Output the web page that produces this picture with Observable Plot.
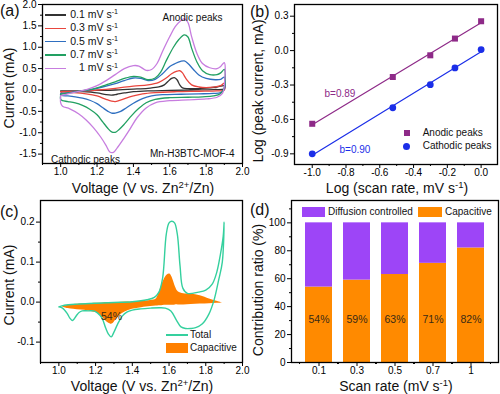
<!DOCTYPE html>
<html><head><meta charset="utf-8">
<script src="https://cdn.jsdelivr.net/npm/d3@7"></script>
<script src="https://cdn.jsdelivr.net/npm/@observablehq/plot@0.6"></script>
<style>
html,body{margin:0;padding:0;background:#fff;}
#fig{position:relative;width:500px;height:394px;overflow:hidden;background:#fff;font-family:"Liberation Sans",Arial,Helvetica,sans-serif;color:#111;}
.ov{position:absolute;white-space:nowrap;line-height:1;}
.sup{font-size:0.68em;position:relative;top:-0.5em;}
</style></head><body>
<div id="fig"></div>
<script>
// ---------------- data ----------------
const scanRates = ["0.1", "0.3", "0.5", "0.7", "1"];
const rateColors = ["#333333", "#e8463e", "#2f6fc0", "#22a062", "#c77ddf"];

// (a) CV loops, forward sweep then reverse sweep
const cvV_01 = [1.00,1.10,1.20,1.30,1.40,1.48,1.54,1.57,1.59,1.61,1.625,1.64,1.655,1.67,1.70,1.78,1.86,1.90, 1.90,1.84,1.72,1.60,1.48,1.40,1.35,1.31,1.28,1.25,1.20,1.12,1.05,1.00,1.00];
const cvI_01 = [-0.02,-0.02,-0.01,0.00,0.02,0.04,0.07,0.12,0.20,0.27,0.29,0.24,0.12,0.05,0.03,0.04,0.07,0.10, 0.03,0.01,0.00,-0.01,-0.02,-0.04,-0.07,-0.10,-0.12,-0.11,-0.07,-0.04,-0.03,-0.03,-0.02];
const cvV_03 = [1.00,1.10,1.20,1.30,1.40,1.48,1.54,1.58,1.61,1.64,1.655,1.67,1.69,1.72,1.76,1.82,1.88,1.90, 1.90,1.86,1.76,1.64,1.52,1.45,1.40,1.36,1.32,1.30,1.28,1.25,1.20,1.14,1.07,1.02,1.00,1.00];
const cvI_03 = [-0.04,-0.03,0.00,0.04,0.09,0.12,0.18,0.28,0.38,0.44,0.45,0.40,0.26,0.12,0.07,0.06,0.10,0.16, 0.00,-0.02,-0.03,-0.04,-0.06,-0.09,-0.14,-0.19,-0.25,-0.27,-0.26,-0.22,-0.14,-0.09,-0.06,-0.05,-0.05,-0.04];
const cvV_05 = [1.00,1.05,1.10,1.15,1.20,1.25,1.30,1.35,1.40,1.44,1.48,1.52,1.56,1.60,1.63,1.66,1.68,1.70,1.73,1.76,1.80,1.85,1.88,1.90, 1.90,1.88,1.84,1.76,1.66,1.56,1.50,1.45,1.40,1.36,1.33,1.30,1.28,1.26,1.23,1.20,1.16,1.12,1.08,1.04,1.01,1.00,1.00];
const cvI_05 = [-0.08,-0.06,-0.03,0.00,0.04,0.09,0.15,0.22,0.28,0.27,0.22,0.25,0.38,0.55,0.62,0.67,0.68,0.62,0.48,0.35,0.27,0.24,0.25,0.30, 0.02,-0.06,-0.08,-0.09,-0.10,-0.11,-0.14,-0.20,-0.31,-0.42,-0.50,-0.54,-0.54,-0.50,-0.41,-0.32,-0.24,-0.19,-0.16,-0.14,-0.13,-0.12,-0.08];
const cvV_07 = [1.00,1.05,1.10,1.15,1.20,1.25,1.30,1.35,1.40,1.44,1.48,1.52,1.55,1.58,1.62,1.65,1.68,1.70,1.72,1.75,1.78,1.82,1.86,1.88,1.90, 1.90,1.88,1.84,1.78,1.70,1.60,1.52,1.47,1.43,1.39,1.35,1.32,1.30,1.28,1.26,1.23,1.20,1.16,1.12,1.08,1.04,1.01,1.00,1.00];
const cvI_07 = [-0.10,-0.07,-0.03,0.00,0.05,0.12,0.19,0.27,0.32,0.30,0.24,0.28,0.42,0.68,1.00,1.18,1.29,1.24,0.98,0.65,0.45,0.36,0.36,0.40,0.48, 0.06,-0.08,-0.14,-0.16,-0.17,-0.18,-0.22,-0.30,-0.43,-0.60,-0.80,-0.93,-0.99,-0.98,-0.90,-0.74,-0.58,-0.45,-0.36,-0.30,-0.27,-0.25,-0.22,-0.10];
const cvV_10 = [1.00,1.05,1.10,1.15,1.20,1.25,1.30,1.35,1.40,1.43,1.47,1.50,1.53,1.56,1.60,1.63,1.66,1.68,1.70,1.72,1.75,1.78,1.82,1.86,1.88,1.90, 1.90,1.89,1.86,1.80,1.70,1.60,1.52,1.47,1.42,1.38,1.34,1.31,1.29,1.27,1.25,1.22,1.18,1.14,1.10,1.05,1.01,1.00,1.00];
const cvI_10 = [-0.13,-0.08,-0.03,0.02,0.10,0.22,0.36,0.50,0.57,0.56,0.46,0.48,0.62,0.90,1.25,1.48,1.62,1.67,1.58,1.25,0.85,0.62,0.52,0.50,0.55,0.64, 0.10,-0.08,-0.17,-0.21,-0.23,-0.25,-0.30,-0.42,-0.65,-0.92,-1.18,-1.36,-1.46,-1.45,-1.30,-1.10,-0.88,-0.70,-0.56,-0.44,-0.38,-0.30,-0.13];

// (b) log peak current vs log scan rate
const logRate = [-1.0, -0.523, -0.301, -0.155, 0.0];
const logAnodic = [-0.638, -0.230, -0.041, 0.105, 0.256];
const logCathodic = [-0.900, -0.498, -0.297, -0.151, 0.009];

// (c) total CV at 0.1 mV/s and capacitive region
const totalV = [1.00,1.03,1.10,1.20,1.30,1.40,1.48,1.52,1.545,1.565,1.585,1.60,1.615,1.63,1.645,1.66,1.675,1.70,1.76,1.80,1.835,1.86,1.88,1.895,1.90, 1.89,1.87,1.845,1.817,1.78,1.745,1.717,1.69,1.665,1.64,1.61,1.58,1.55,1.50,1.445,1.40,1.37,1.345,1.32,1.30,1.285,1.27,1.255,1.235,1.21,1.19,1.16,1.127,1.11,1.095,1.075,1.06,1.045,1.02,1.00];
const totalI = [-0.012,-0.008,-0.005,-0.003,-0.001,0.001,0.006,0.012,0.025,0.060,0.170,0.198,0.202,0.198,0.170,0.090,0.035,0.022,0.025,0.030,0.045,0.075,0.120,0.165,0.200, 0.100,0.055,0.005,-0.030,-0.055,-0.064,-0.066,-0.066,-0.062,-0.045,-0.022,-0.015,-0.014,-0.015,-0.017,-0.020,-0.025,-0.035,-0.055,-0.075,-0.087,-0.080,-0.065,-0.040,-0.027,-0.022,-0.022,-0.022,-0.026,-0.034,-0.046,-0.040,-0.028,-0.015,-0.012];
const capV = [1.02,1.05,1.08,1.12,1.16,1.20,1.22,1.245,1.27,1.29,1.31,1.33,1.36,1.40,1.45,1.50,1.53,1.545,1.56,1.575,1.59,1.605,1.62,1.635,1.65,1.68,1.72,1.77,1.82,1.86,1.89];
const capLow = [-0.012,-0.016,-0.018,-0.020,-0.022,-0.026,-0.030,-0.042,-0.052,-0.055,-0.045,-0.034,-0.025,-0.018,-0.014,-0.011,-0.010,-0.009,-0.009,-0.008,-0.008,-0.008,-0.008,-0.007,-0.007,-0.007,-0.006,-0.005,-0.004,-0.003,-0.002];
const capHigh = [-0.012,-0.008,-0.006,-0.005,-0.004,-0.003,-0.003,-0.002,-0.002,-0.002,-0.001,-0.001,0.000,0.000,0.002,0.004,0.008,0.022,0.042,0.058,0.068,0.070,0.058,0.038,0.026,0.021,0.020,0.016,0.008,0.002,-0.002];

// (d) capacitive contribution (%)
const capPercent = [54, 59, 63, 71, 82];

// ---------------- helpers ----------------
const FONT = '"Liberation Sans", Arial, Helvetica, sans-serif';
const fig = document.getElementById("fig");
const f1 = d => d.toFixed(1);

function place(svg, P) {
  const d = document.createElement("div");
  d.style.cssText = `position:absolute;left:${P.left}px;top:${P.top}px;`;
  d.appendChild(svg);
  fig.appendChild(d);
}
function ov(html, x, y, {size = 10, anchor = "start", color = "#111", rotate = 0} = {}) {
  const d = document.createElement("div");
  d.className = "ov";
  d.innerHTML = html;
  const tx = anchor === "end" ? "-100%" : anchor === "middle" ? "-50%" : "0";
  d.style.cssText += `left:${x}px;top:${y}px;font-size:${size}px;color:${color};transform:translate(${tx},-50%)${rotate ? ` rotate(${rotate}deg)` : ""};`;
  fig.appendChild(d);
}
function box(x, y, w, h, color, radius = 0) {
  const d = document.createElement("div");
  d.style.cssText = `position:absolute;left:${x}px;top:${y}px;width:${w}px;height:${h}px;background:${color};border-radius:${radius}px;`;
  fig.appendChild(d);
}
function ann(P, str, px, py, o = {}) {
  return Plot.text([str], {text: d => d, frameAnchor: "top-left", dx: px - P.left - P.ml, dy: py - P.top - P.mt,
    fontSize: 10, fill: "#111", textAnchor: "start", ...o});
}
function minorX(ticks, dx = 0) {
  return Plot.axisX(ticks, {anchor: "bottom", tickSize: 2, tickFormat: () => "", label: null, stroke: "#000", dx});
}
function axes({xt, xm, yt, ym, xf = f1, yf = f1, xdx = 0}) {
  const m = [];
  m.push(Plot.axisX(xt, {anchor: "bottom", tickSize: 4, tickPadding: 0, tickFormat: xf, fontSize: 10, label: null, stroke: "#000", fill: "#000"}));
  if (xm) for (const dx of [].concat(xdx)) m.push(minorX(xm, dx));
  m.push(Plot.axisY(yt, {anchor: "left", tickSize: 4, tickPadding: 2, tickFormat: yf, fontSize: 10, label: null, stroke: "#000", fill: "#000"}));
  if (ym) m.push(Plot.axisY(ym, {anchor: "left", tickSize: 2, tickFormat: () => "", label: null, stroke: "#000"}));
  m.push(Plot.frame({stroke: "#000", strokeWidth: 1.3}));
  return m;
}
const baseStyle = {fontFamily: FONT, background: "transparent", color: "#000", overflow: "visible"};

// ---------------- (a) ----------------
const PA = {left: 0, top: 0, w: 250, h: 195, ml: 42, mr: 8, mt: 4, mb: 32};
const cvSets = [[cvV_01, cvI_01], [cvV_03, cvI_03], [cvV_05, cvI_05], [cvV_07, cvI_07], [cvV_10, cvI_10]];
const cvRows = cvSets.flatMap(([V, I], k) => V.map((v, i) => ({rate: scanRates[k], V: v, I: I[i]})));
place(Plot.plot({
  width: PA.w, height: PA.h, marginLeft: PA.ml, marginRight: PA.mr, marginTop: PA.mt, marginBottom: PA.mb,
  x: {domain: [0.9, 2.0]}, y: {domain: [-1.72, 2.0]},
  color: {domain: scanRates, range: rateColors},
  style: baseStyle,
  marks: [
    Plot.line(cvRows, {x: "V", y: "I", z: "rate", stroke: "rate", strokeWidth: 1.3, curve: "catmull-rom"}),
    ...axes({xt: [1.0, 1.2, 1.4, 1.6, 1.8, 2.0], xm: [0.9, 1.1, 1.3, 1.5, 1.7, 1.9],
             yt: [-1.5, -1, -0.5, 0, 0.5, 1, 1.5, 2], ym: [-1.25, -0.75, -0.25, 0.25, 0.75, 1.25, 1.75]}),
    ann(PA, "Anodic peaks", 192, 13.5, {textAnchor: "middle"}),
    ann(PA, "Cathodic peaks", 50.5, 155),
    ann(PA, "Mn-H3BTC-MOF-4", 149.5, 149)
  ]
}), PA);
scanRates.forEach((r, i) => {
  const y = 15 + i * 13.3;
  box(45, y - 0.7, 21, 1.4, rateColors[i]);
  ov(`${r} mV s<span class="sup">-1</span>`, 118, y, {anchor: "end", size: 10.5});
});
ov("Current (mA)", 8.5, 88, {size: 14, anchor: "middle", rotate: -90, color: "#111"});
ov(`Voltage (V vs. Zn<span class="sup">2+</span>/Zn)`, 143, 187.5, {size: 14, anchor: "middle"});
ov("(a)", 0, 11, {size: 16});

// ---------------- (b) ----------------
const PB = {left: 250, top: 0, w: 250, h: 195, ml: 44, mr: 3, mt: 4, mb: 31};
const bRows = logRate.map((x, i) => ({x, an: logAnodic[i], ca: logCathodic[i]}));
const colAn = "#8e2a88", colCa = "#1b2ee8";
place(Plot.plot({
  width: PB.w, height: PB.h, marginLeft: PB.ml, marginRight: PB.mr, marginTop: PB.mt, marginBottom: PB.mb,
  x: {domain: [-1.105, 0.097]}, y: {domain: [-0.993, 0.402]},
  style: baseStyle,
  marks: [
    Plot.linearRegressionY(bRows, {x: "x", y: "an", stroke: colAn, strokeWidth: 1.2, ci: 0}),
    Plot.linearRegressionY(bRows, {x: "x", y: "ca", stroke: colCa, strokeWidth: 1.2, ci: 0}),
    Plot.dot(bRows, {x: "x", y: "an", symbol: "square", fill: colAn, r: 3.4}),
    Plot.dot(bRows, {x: "x", y: "ca", symbol: "circle", fill: colCa, r: 3.4}),
    ...axes({xt: [-1.0, -0.8, -0.6, -0.4, -0.2, 0.0], xm: [-0.9, -0.7, -0.5, -0.3, -0.1],
             yt: [-0.9, -0.6, -0.3, 0, 0.3], ym: [-0.75, -0.45, -0.15, 0.15]}),
    ann(PB, "b=0.89", 324, 89.5, {fill: colAn}),
    ann(PB, "b=0.90", 339, 145, {fill: colCa})
  ]
}), PB);
box(403.7, 129.7, 6, 6, colAn);
box(403.2, 142.8, 7, 7, colCa, 4);
ov("Anodic peaks", 422.7, 132.7);
ov("Cathodic peaks", 422.7, 146.3);
ov("Log (peak current, mA)", 258, 91, {size: 14, anchor: "middle", rotate: -90});
ov(`Log (scan rate, mV s<span class="sup">-1</span>)`, 397, 187.5, {size: 14, anchor: "middle"});
ov("(b)", 250, 12, {size: 16});

// ---------------- (c) ----------------
const PC = {left: 0, top: 195, w: 250, h: 199, ml: 40, mr: 8, mt: 5, mb: 32};
const colTot = "#35d09e", colOr = "#ff8000";
const totRows = totalV.map((v, i) => ({V: v, I: totalI[i]}));
const capRows = capV.map((v, i) => ({V: v, lo: capLow[i], hi: capHigh[i]}));
place(Plot.plot({
  width: PC.w, height: PC.h, marginLeft: PC.ml, marginRight: PC.mr, marginTop: PC.mt, marginBottom: PC.mb,
  x: {domain: [0.9, 2.0]}, y: {domain: [-0.151, 0.254]},
  style: baseStyle,
  marks: [
    Plot.areaY(capRows, {x: "V", y1: "lo", y2: "hi", fill: colOr, curve: "catmull-rom"}),
    Plot.line(totRows, {x: "V", y: "I", stroke: colTot, strokeWidth: 1.4, curve: "catmull-rom"}),
    ...axes({xt: [1.0, 1.2, 1.4, 1.6, 1.8, 2.0], xm: [0.9, 1.1, 1.3, 1.5, 1.7, 1.9],
             yt: [-0.1, 0, 0.1, 0.2], ym: [-0.05, 0.05, 0.15]}),
    ann(PC, "54%", 111, 312, {textAnchor: "middle", fontSize: 10.5, fill: "#3a2a15"})
  ]
}), PC);
box(166, 334.3, 22, 1.5, colTot);
ov("Total", 190, 335);
box(166, 342.5, 22, 10, colOr);
ov("Capacitive", 190, 347.5);
ov("Current (mA)", 8.5, 285, {size: 14, anchor: "middle", rotate: -90});
ov(`Voltage (V vs. Zn<span class="sup">2+</span>/Zn)`, 142, 385.5, {size: 14, anchor: "middle"});
ov("(c)", 0, 211.5, {size: 16});

// ---------------- (d) ----------------
const PD = {left: 250, top: 195, w: 250, h: 199, ml: 41, mr: 2, mt: 5, mb: 32};
const colPu = "#9d45f7", colOr2 = "#ff8a00";
const dRows = scanRates.map((r, i) => ({rate: r, cap: capPercent[i]}));
const pIn = 0.28, pOut = 0.3;
const dStep = (PD.w - PD.ml - PD.mr) / (scanRates.length - pIn + 2 * pOut);
place(Plot.plot({
  width: PD.w, height: PD.h, marginLeft: PD.ml, marginRight: PD.mr, marginTop: PD.mt, marginBottom: PD.mb,
  x: {type: "band", domain: scanRates, paddingInner: pIn, paddingOuter: pOut}, y: {domain: [0, 116]},
  style: baseStyle,
  marks: [
    Plot.barY(dRows, {x: "rate", y1: 0, y2: "cap", fill: colOr2}),
    Plot.barY(dRows, {x: "rate", y1: "cap", y2: 100, fill: colPu}),
    Plot.text(dRows, {x: "rate", y: 31, text: d => d.cap + "%", fontSize: 10.5, fill: "#3a2a15"}),
    ...axes({xt: scanRates, xm: scanRates, xdx: [-dStep / 2, dStep / 2], xf: d => d,
             yt: [0, 20, 40, 60, 80, 100], ym: [10, 30, 50, 70, 90, 110], yf: d => String(d)})
  ]
}), PD);
box(302, 207, 23, 10, colPu);
ov("Diffusion controlled", 328, 212);
box(418, 207, 24, 10, colOr2);
ov("Capacitive", 445, 212);
ov("Contribution ratio (%)", 258, 290, {size: 14, anchor: "middle", rotate: -90});
ov(`Scan rate (mV s<span class="sup">-1</span>)`, 396, 385.5, {size: 14, anchor: "middle"});
ov("(d)", 250, 210, {size: 16});
</script>
</body></html>
